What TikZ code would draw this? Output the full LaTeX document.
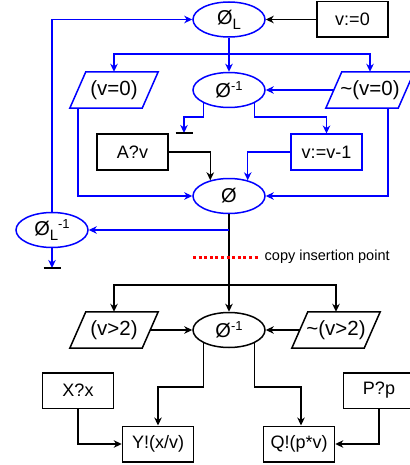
\documentclass[tikz,border=0pt]{standalone}
\usepackage{fontspec}
\setmainfont{Liberation Sans}
\usetikzlibrary{arrows.meta,calc,shapes.geometric}
\newcommand\mysub{\raisebox{-5pt}{\fontsize{15}{15}\selectfont L}}
\newcommand\mysup[1]{\raisebox{7pt}{\fontsize{13}{13}\selectfont #1}}
\tikzset{
 every node/.style={font=\fontsize{18}{20}\selectfont},
 box/.style={draw, minimum width=71pt, minimum height=35.5pt, inner sep=0, line width=1.5pt},
 ell/.style={draw, ellipse, minimum width=72pt, minimum height=35pt, inner sep=0, line width=1.5pt, font=\fontsize{20}{20}\selectfont},
 ellb/.style={ell, draw=blue},
 para/.style={minimum width=72pt, minimum height=36pt, inner sep=0, font=\fontsize{20.5}{22}\selectfont},
 ln/.style={line width=1.5pt},
 arr/.style={ln, -{Stealth[length=8pt,width=7.5pt,inset=2.5pt]}},
}
\begin{document}
\begin{tikzpicture}[x=1pt,y=-1pt]
\useasboundingbox (0,0) rectangle (409,465);
% nodes
\node[ellb] (L) at (229,19.5) {Ø\mysub};
\node[box] (v0) at (352.5,19.5) {v:=0};
\node[para] (p1) at (114,90) {(v=0)};
\node[ellb] (i1) at (229,90) {Ø\mysup{-1}};
\node[para] (p2) at (370,90) {\textasciitilde(v=0)};
\node[box] (av) at (132.5,152) {A?v};
\node[box,draw=blue] (dec) at (326.5,152) {v:=v-1};
\node[ellb] (o) at (229,196) {Ø};
\node[ellb] (Li) at (52,230) {Ø\mysub\mysup{-1}};
\node[para] (q1) at (114,330) {(v>2)};
\node[ell] (j) at (229,330) {Ø\mysup{-1}};
\node[para] (q2) at (336,330) {\textasciitilde(v>2)};
\node[box] (X) at (78,390.5) {X?x};
\node[box] (Y) at (158,444) {Y!(x/v)};
\node[box] (Q) at (299,444) {Q!(p*v)};
\node[box] (P) at (379,390.5) {P?p};
% parallelogram outlines
\foreach \n/\c in {p1/blue,p2/blue,q1/black,q2/black}
  \draw[ln,draw=\c] ([xshift=8pt]\n.north west) -- ([xshift=8pt]\n.north east)
     -- ([xshift=-8pt]\n.south east) -- ([xshift=-8pt]\n.south west) -- cycle;
% coordinates
\coordinate (b1) at (229,54);
\coordinate (y117) at (0,117);
\coordinate (t1) at (184,133);
\coordinate (b2) at (229,285);
\coordinate (b3) at (229,230);
\coordinate (t2) at (52,268);
\coordinate (r1) at (193,257);
\coordinate (r2) at (260,257);
\coordinate (y387) at (0,387);
% top part
\draw[ln,blue] (L.south) -- (b1);
\draw[arr,blue] (b1) -- (i1.north);
\draw[arr,blue] (b1) -| (p1.north);
\draw[arr,blue] (b1) -| (p2.north);
\draw[arr] (v0.west) -- (L.east);
\draw[arr,blue] (p2.west) -- (i1.east);
\draw[arr,blue] (i1.207) -- (i1.207 |- y117) -| (t1);
\draw[ln] ([xshift=-8.5pt]t1) -- ([xshift=8.5pt]t1);
\draw[arr,blue] (i1.-27) -- (i1.-27 |- y117) -| (dec.north);
\draw[arr] (av.east) -| (o.140);
\draw[arr,blue] (dec.west) -| (o.40);
\draw[arr,blue] (p1.south west) |- (o.west);
\draw[arr,blue] ([xshift=-18pt]p2.south east) |- (o.east);
\draw[arr,blue] (Li.north) |- (L.west);
\draw[ln] (o.south) -- (b2);
\draw[arr,blue] (b3) -- (Li.east);
\draw[arr,blue] (Li.south) -- (t2);
\draw[ln] ([xshift=-8.5pt]t2) -- ([xshift=8.5pt]t2);
% copy insertion point
\draw[red, line width=3pt, dash pattern=on 3pt off 2.6pt] (r1) -- (r2);
\node[font=\fontsize{14.5}{14.5}\selectfont, anchor=west, inner sep=0] (cip) at (264.5,257) {copy insertion point};
% bottom part
\draw[arr] (b2) -- (j.north);
\draw[arr] (b2) -| (q1.north);
\draw[arr] (b2) -| (q2.north);
\draw[arr] (q1.east) -- (j.west);
\draw[arr] (q2.west) -- (j.east);
\draw[arr] (j.207) -- (j.207 |- y387) -| (Y.north);
\draw[arr] (j.-27) -- (j.-27 |- y387) -| ([xshift=2pt]Q.north);
\draw[arr] (X.south) |- (Y.west);
\draw[arr] (P.south) |- (Q.east);
\end{tikzpicture}
\end{document}
